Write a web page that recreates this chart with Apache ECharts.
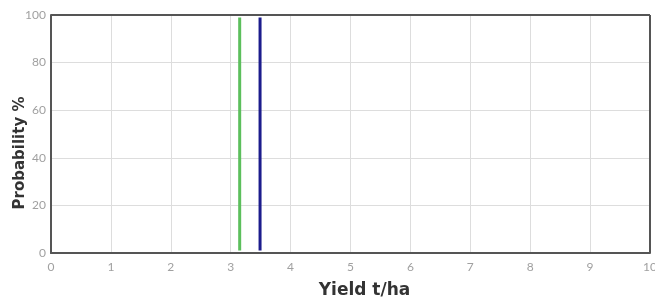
<!DOCTYPE html>
<html><head><meta charset="utf-8">
<script src="https://cdn.jsdelivr.net/npm/echarts@6/dist/echarts.min.js"></script>
<style>html,body{margin:0;padding:0;background:#fff}#c{width:655px;height:297px}</style>
</head><body><div id="c"></div>
<script>
const xTicks = [0,1,2,3,4,5,6,7,8,9,10];
const yTicks = [0,20,40,60,80,100];
const greenX = 3.15;
const blueX = 3.49;
const lineBottom = 1;
const lineTop = 99;
const chart = echarts.init(document.getElementById('c'));
chart.setOption({
  animation:false,
  grid:{left:51,right:5,top:15,bottom:44,outerBoundsMode:'none',containLabel:false},
  xAxis:{type:'value',min:xTicks[0],max:xTicks[xTicks.length-1],interval:1,
    name:'Yield t/ha',nameLocation:'middle',nameGap:29,nameMoveOverlap:false,
    nameTextStyle:{fontFamily:'DejaVu Sans',fontWeight:'bold',fontSize:17,color:'#333',padding:[0,0,0,28]},
    axisLine:{lineStyle:{color:'#555',width:2}},axisTick:{show:false},
    axisLabel:{color:'#a0a0a0',fontFamily:'Lato',fontSize:12,margin:8},
    splitLine:{show:true,lineStyle:{color:'#ddd',width:1}}},
  yAxis:{type:'value',min:yTicks[0],max:yTicks[yTicks.length-1],interval:20,
    name:'Probability %',nameLocation:'middle',nameGap:23,nameMoveOverlap:false,
    nameTextStyle:{fontFamily:'DejaVu Sans',fontWeight:'bold',fontSize:15,color:'#333',padding:[0,38,0,0]},
    axisLine:{show:true,lineStyle:{color:'#555',width:2}},axisTick:{show:false},
    axisLabel:{color:'#a0a0a0',fontFamily:'Lato',fontSize:12,margin:5},
    splitLine:{show:true,lineStyle:{color:'#ddd',width:1}}},
  series:[
    {type:'line',data:[[xTicks[10],0]],symbol:'none',lineStyle:{width:0},silent:true,
     markLine:{silent:true,symbol:'none',label:{show:false},
       lineStyle:{color:'#555',width:2,type:'solid'},
       data:[[{coord:[xTicks[0],yTicks[5]]},{coord:[xTicks[10],yTicks[5]]}],
             [{coord:[xTicks[10],yTicks[0]]},{coord:[xTicks[10],yTicks[5]]}]]}},
    {type:'line',data:[[greenX,lineBottom],[greenX,lineTop]],symbol:'none',
     lineStyle:{color:'#5cbf5c',width:3}},
    {type:'line',data:[[blueX,lineBottom],[blueX,lineTop]],symbol:'none',
     lineStyle:{color:'#1c1c8c',width:3}}
  ]
});
</script></body></html>
